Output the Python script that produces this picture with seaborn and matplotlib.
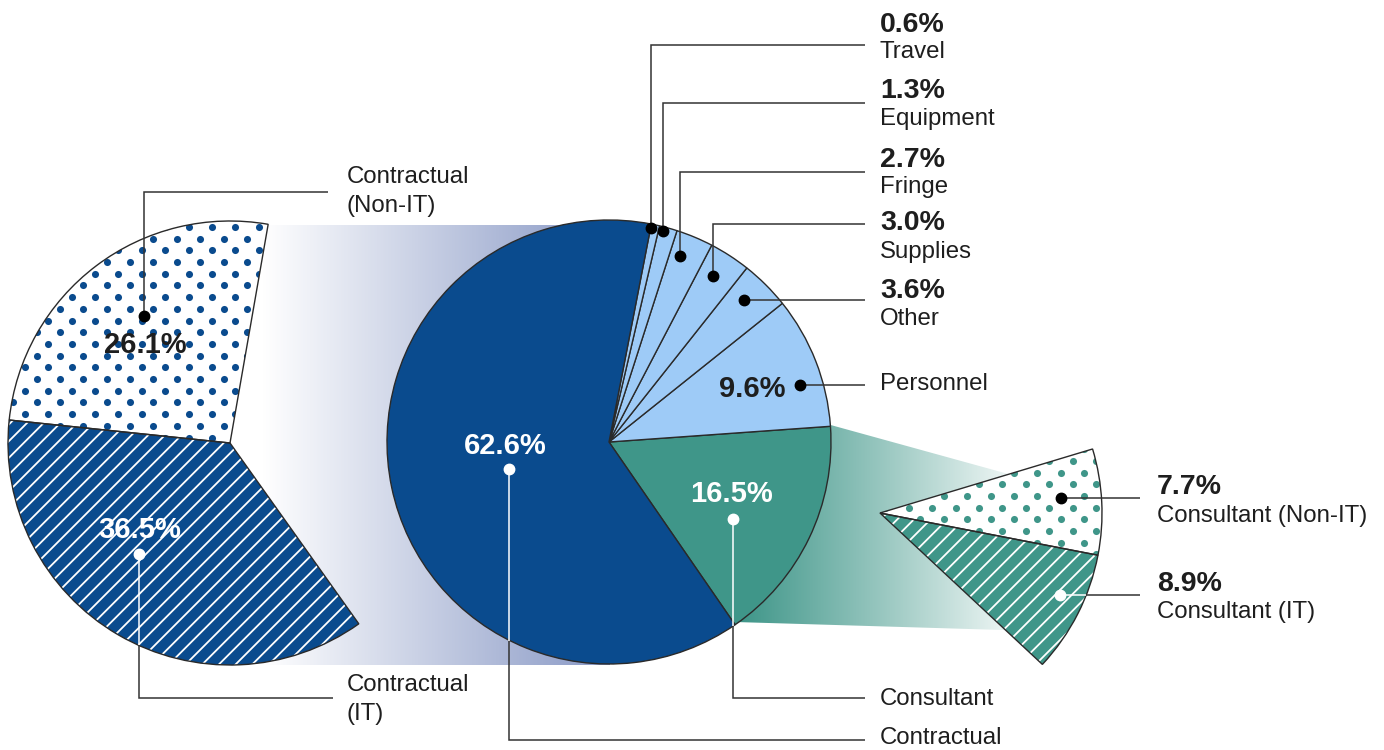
import numpy as np
import matplotlib
matplotlib.use("Agg")
import matplotlib.pyplot as plt
import seaborn as sns
from matplotlib.patches import Polygon
from matplotlib.colors import LinearSegmentedColormap

# ---------------- data ----------------
main_categories = ["Consultant", "Personnel", "Other", "Supplies", "Fringe",
                   "Equipment", "Travel", "Contractual"]
main_values = [16.5, 9.6, 3.6, 3.0, 2.7, 1.3, 0.6, 62.6]

contractual_categories = ["Contractual (Non-IT)", "Contractual (IT)"]
contractual_values = [26.1, 36.5]

consultant_categories = ["Consultant (IT)", "Consultant (Non-IT)"]
consultant_values = [8.9, 7.7]

# ---------------- style ----------------
sns.set_theme(style="white")
plt.rcParams['font.family'] = ['Liberation Sans', 'DejaVu Sans']
plt.rcParams['hatch.linewidth'] = 1.3

BLUE = "#0a4b8e"
LIGHT = "#9ecbf7"
TEAL = "#3f9689"
EDGE = "#2a2a2a"
LINE = "#333333"
TXT = "#1e1e1e"

W, H = 1384, 750
fig = plt.figure(figsize=(W / 100, H / 100), dpi=100)
ax = fig.add_axes([0, 0, 1, 1])


def Y(y):
    return H - y


R = 222
main_c = (609, Y(442))
left_c = (230, Y(443))
right_c = (880, Y(513))

# ---------------- gradient bands ----------------
cm_left = LinearSegmentedColormap.from_list("lb", ["#ffffff", "#8a9ac6"], N=256)
left_grad = np.clip((np.linspace(230, 610, 512) - 262) / (605 - 262), 0, 1)[None, :]
ax.imshow(left_grad, cmap=cm_left, vmin=0, vmax=1, aspect='auto',
          extent=[230, 610, Y(665), Y(225)], interpolation='bilinear', zorder=0)

cm_right = LinearSegmentedColormap.from_list("tb", [TEAL, "#9cc9c2", "#ffffff"], N=256)
right_grad = np.clip((np.linspace(730, 1070, 512) - 740) / (1035 - 740), 0, 1)[None, :]
im = ax.imshow(right_grad, cmap=cm_right, vmin=0, vmax=1, aspect='auto',
               extent=[730, 1070, Y(645), Y(395)], interpolation='bilinear', zorder=0)
band = Polygon([(740, Y(400)), (1070, Y(491)), (1070, Y(632)), (735, Y(622))],
               closed=True, transform=ax.transData, facecolor='none', edgecolor='none')
im.set_clip_path(band)

# ---------------- main pie ----------------
main_colors = [TEAL] + [LIGHT] * 6 + [BLUE]
ax.pie(main_values, colors=main_colors, startangle=-55.4, counterclock=True,
       center=main_c, radius=R, frame=True,
       wedgeprops=dict(edgecolor=EDGE, linewidth=1.0))


def dotted(wedge, color, cx, cy):
    """staggered dot pattern clipped to a wedge"""
    gx = np.arange(cx - R - 30, cx + R + 30, 23.4)
    gy = np.arange(cy - R - 30, cy + R + 30, 11.7)
    px, py = [], []
    for i, yy in enumerate(gy):
        off = 11.7 if i % 2 else 0.0
        px.extend(gx + off)
        py.extend([yy] * len(gx))
    sc = ax.scatter(px, py, s=26, color=color, linewidths=0, zorder=1.5)
    sc.set_clip_path(wedge)


# ---------------- left breakdown pie (Contractual) ----------------
lfr = [v / 100 for v in contractual_values]
lw, _ = ax.pie(lfr, normalize=False, colors=["white", BLUE], startangle=80.1,
               counterclock=True, center=left_c, radius=R, frame=True,
               wedgeprops=dict(linewidth=0))
lw[1].set_hatch('//'); lw[1].set_edgecolor("white"); lw[1].set_linewidth(0)
dotted(lw[0], BLUE, *left_c)
ax.pie(lfr, normalize=False, colors=["none", "none"], startangle=80.1,
       counterclock=True, center=left_c, radius=R, frame=True,
       wedgeprops=dict(edgecolor=EDGE, linewidth=1.0, zorder=2))

# ---------------- right breakdown wedge (Consultant) ----------------
rfr = [v / 100 for v in consultant_values]
rw, _ = ax.pie(rfr, normalize=False, colors=[TEAL, "white"], startangle=-43,
               counterclock=True, center=right_c, radius=R, frame=True,
               wedgeprops=dict(linewidth=0))
rw[0].set_hatch('//'); rw[0].set_edgecolor("white"); rw[0].set_linewidth(0)
dotted(rw[1], TEAL, *right_c)
ax.pie(rfr, normalize=False, colors=["none", "none"], startangle=-43,
       counterclock=True, center=right_c, radius=R, frame=True,
       wedgeprops=dict(edgecolor=EDGE, linewidth=1.0, zorder=2))


# ---------------- leader lines ----------------
def leader(pts, color=LINE, lw=1.1):
    ax.plot([p[0] for p in pts], [Y(p[1]) for p in pts], color=color, lw=lw,
            solid_capstyle='butt', solid_joinstyle='miter', zorder=3)


def dot(x, y, color):
    ax.plot([x], [Y(y)], 'o', ms=7.5, color=color, mec=color, zorder=4)


for (dx, dy, ly) in [(651, 228, 45), (663, 231, 103), (680, 256, 172), (713, 276, 224)]:
    leader([(dx, dy), (dx, ly), (865, ly)])
    dot(dx, dy, "black")
leader([(744, 300), (865, 300)]); dot(744, 300, "black")
leader([(800, 385), (865, 385)]); dot(800, 385, "black")

leader([(733, 519), (733, 626)], color="white")
leader([(733, 626), (733, 698), (865, 698)])
dot(733, 519, "white")

leader([(509, 469), (509, 641)], color="white")
leader([(509, 641), (509, 740), (865, 740)])
dot(509, 469, "white")

leader([(144, 316), (144, 192), (328, 192)]); dot(144, 316, "black")
leader([(139, 554), (139, 645)], color="white")
leader([(139, 645), (139, 698), (333, 698)])
dot(139, 554, "white")

leader([(1061, 498), (1140, 498)]); dot(1061, 498, "black")
leader([(1060, 595), (1086, 595)], color="white")
leader([(1086, 595), (1140, 595)])
dot(1060, 595, "white")

# ---------------- text ----------------
PCT = 20.5
LAB = 17.3
INS = 21


def pct(v):
    return f"{v:.1f}%"


def t(x, y, s, size=LAB, bold=False, color=TXT, ha='left'):
    ax.text(x, Y(y), s, fontsize=size, fontweight='bold' if bold else 'normal',
            color=color, ha=ha, va='baseline', zorder=5)


mv = dict(zip(main_categories, main_values))
for name, pb, nb in [("Travel", 32, 58), ("Equipment", 98, 125), ("Fringe", 167, 193),
                     ("Supplies", 230, 258), ("Other", 298, 325)]:
    t(880, pb, pct(mv[name]), size=PCT, bold=True)
    t(880, nb, name)
t(880, 390, "Personnel")
t(880, 705, "Consultant")
t(880, 744, "Contractual")

cv = dict(zip(consultant_categories, consultant_values))
t(1157, 494, pct(cv["Consultant (Non-IT)"]), size=PCT, bold=True)
t(1157, 522, "Consultant (Non-IT)")
t(1157, 591, pct(cv["Consultant (IT)"]), size=PCT, bold=True)
t(1157, 618, "Consultant (IT)")

t(347, 183, "Contractual")
t(347, 212, "(Non-IT)")
t(347, 691, "Contractual")
t(347, 720, "(IT)")

t(145, 353, pct(contractual_values[0]), size=INS, bold=True, color=TXT, ha='center')
t(140, 538, pct(contractual_values[1]), size=INS, bold=True, color="white", ha='center')
t(505, 454, pct(mv["Contractual"]), size=INS, bold=True, color="white", ha='center')
t(731, 502, pct(mv["Consultant"]), size=INS, bold=True, color="white", ha='center')
t(752, 397, pct(mv["Personnel"]), size=INS, bold=True, color=TXT, ha='center')

ax.set_xlim(0, W)
ax.set_ylim(0, H)
ax.set_aspect('equal')
ax.axis('off')
fig.savefig("out.png", dpi=100, facecolor="white")
